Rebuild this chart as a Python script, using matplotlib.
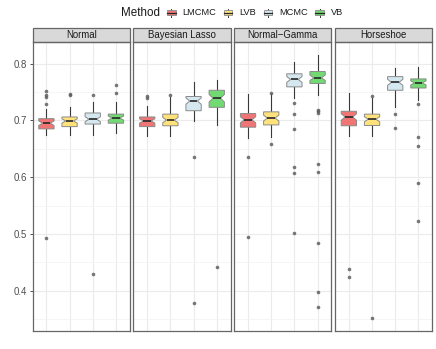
import matplotlib
matplotlib.use("Agg")
import matplotlib.pyplot as plt
from matplotlib.patches import Rectangle
import numpy as np

plt.rcParams['font.family'] = ['Liberation Sans', 'DejaVu Sans']

panels = ["Normal", "Bayesian Lasso", "Normal\u2212Gamma", "Horseshoe"]
methods = ["LMCMC", "LVB", "MCMC", "VB"]
colors = ["#F07575", "#FFE27A", "#D5E8F0", "#72DA72"]
N_OBS = 50

# per panel, per method: [whisker low, q1, median, q3, whisker high]
stats_normal = [[0.674, 0.685, 0.695, 0.703, 0.720],
                [0.675, 0.689, 0.699, 0.706, 0.723],
                [0.675, 0.6935, 0.702, 0.713, 0.733],
                [0.677, 0.695, 0.704, 0.711, 0.733]]
stats_lasso = [[0.672, 0.689, 0.699, 0.706, 0.726],
               [0.673, 0.6905, 0.7005, 0.711, 0.742],
               [0.699, 0.717, 0.734, 0.742, 0.768],
               [0.692, 0.723, 0.739, 0.753, 0.771]]
stats_ng = [[0.669, 0.688, 0.701, 0.712, 0.746],
            [0.671, 0.692, 0.704, 0.715, 0.746],
            [0.739, 0.759, 0.772, 0.782, 0.802],
            [0.745, 0.765, 0.775, 0.786, 0.815]]
stats_hs = [[0.672, 0.6905, 0.706, 0.716, 0.749],
            [0.673, 0.691, 0.702, 0.711, 0.740],
            [0.724, 0.753, 0.767, 0.777, 0.793],
            [0.736, 0.757, 0.766, 0.773, 0.794]]

out_normal = [[0.752, 0.745, 0.742, 0.728, 0.493],
              [0.747, 0.744],
              [0.745, 0.429],
              [0.762, 0.748]]
out_lasso = [[0.743, 0.739],
             [0.744],
             [0.635, 0.379],
             [0.441]]
out_ng = [[0.636, 0.494],
          [0.749, 0.659],
          [0.731, 0.711, 0.685, 0.617, 0.607, 0.502],
          [0.719, 0.716, 0.713, 0.624, 0.609, 0.484, 0.398, 0.372]]
out_hs = [[0.439, 0.424],
          [0.743, 0.352],
          [0.711, 0.686],
          [0.728, 0.671, 0.655, 0.589, 0.522]]

all_stats = [stats_normal, stats_lasso, stats_ng, stats_hs]
all_out = [out_normal, out_lasso, out_ng, out_hs]

W, H = 436, 349
fig = plt.figure(figsize=(W / 100, H / 100), dpi=100)
axes = fig.subplots(1, 4, sharey=True)
fig.subplots_adjust(left=32.5 / W, right=432.3 / W, bottom=1 - 330.7 / H,
                    top=1 - 42 / H, wspace=0.036)

for p, ax in enumerate(axes):
    bstats = []
    for m in range(4):
        lo, q1, med, q3, hi = all_stats[p][m]
        ci = 1.58 * (q3 - q1) / np.sqrt(N_OBS)
        bstats.append(dict(med=med, q1=q1, q3=q3, whislo=lo, whishi=hi,
                           fliers=all_out[p][m], cilo=med - ci, cihi=med + ci))
    bp = ax.bxp(bstats, positions=[1, 2, 3, 4], widths=0.66, shownotches=True,
                showcaps=False, patch_artist=True,
                boxprops=dict(edgecolor="#8a8a8a", linewidth=0.7),
                medianprops=dict(color="#262626", linewidth=1.2),
                whiskerprops=dict(color="#3a3a3a", linewidth=0.8),
                flierprops=dict(marker="o", markersize=2.6, markerfacecolor="#5f5f5f",
                                markeredgecolor="none", alpha=0.85))
    for patch, c in zip(bp["boxes"], colors):
        patch.set_facecolor(c)
        patch.set_zorder(3)
    for ln in bp["medians"]:
        ln.set_zorder(4)

    ax.set_xlim(0.4, 4.6)
    ax.set_ylim(0.3296, 0.838)
    ax.set_yticks([0.4, 0.5, 0.6, 0.7, 0.8])
    ax.set_yticks(np.arange(0.35, 0.84, 0.1), minor=True)
    ax.set_xticks([1, 2, 3, 4])
    ax.set_xticklabels([])
    ax.grid(True, which="major", color="#EBEBEB", linewidth=0.8)
    ax.grid(True, which="minor", axis="y", color="#F2F2F2", linewidth=0.5)
    ax.set_axisbelow(True)
    ax.tick_params(axis="x", length=0)
    ax.tick_params(axis="y", which="minor", length=0)
    ax.tick_params(axis="y", which="major", length=2.5, width=0.6, color="#333333",
                   labelsize=6.9, labelcolor="#4D4D4D", pad=1.5)
    if p > 0:
        ax.tick_params(axis="y", which="major", length=0)
    for s in ax.spines.values():
        s.set_color("#666666")
        s.set_linewidth(0.9)

    sh = 14 / (330.7 - 42)
    ax.add_patch(Rectangle((0, 1), 1, sh, transform=ax.transAxes, clip_on=False,
                           facecolor="#D9D9D9", edgecolor="#666666", linewidth=0.9))
    ax.text(0.5, 1 + sh / 2, panels[p], transform=ax.transAxes, ha="center",
            va="center", fontsize=6.9, color="#1A1A1A")

# legend drawn in pixel coordinates on an overlay
lax = fig.add_axes([0, 0, 1, 1])
lax.set_xlim(0, W)
lax.set_ylim(H, 0)
lax.axis("off")
renderer = fig.canvas.get_renderer()
ly = 12.5
x = 120.7
t = lax.text(x, ly, "Method", fontsize=8.4, va="center", ha="left", color="#1A1A1A")
x += t.get_window_extent(renderer).width + 3
for m in range(4):
    cx = x + 8.6
    lax.plot([cx, cx], [ly - 4, ly + 4], color="#3a3a3a", lw=0.7)
    lax.add_patch(Rectangle((cx - 4.2, ly - 2.4), 8.4, 4.8, facecolor=colors[m],
                            edgecolor="#8a8a8a", lw=0.6, zorder=3))
    lax.plot([cx - 4.2, cx + 4.2], [ly, ly], color="#262626", lw=0.9, zorder=4)
    t = lax.text(x + 20, ly, methods[m], fontsize=6.7, va="center", ha="left",
                 color="#1A1A1A")
    x += 20 + t.get_window_extent(renderer).width + 3

fig.savefig("out.png", dpi=100)
